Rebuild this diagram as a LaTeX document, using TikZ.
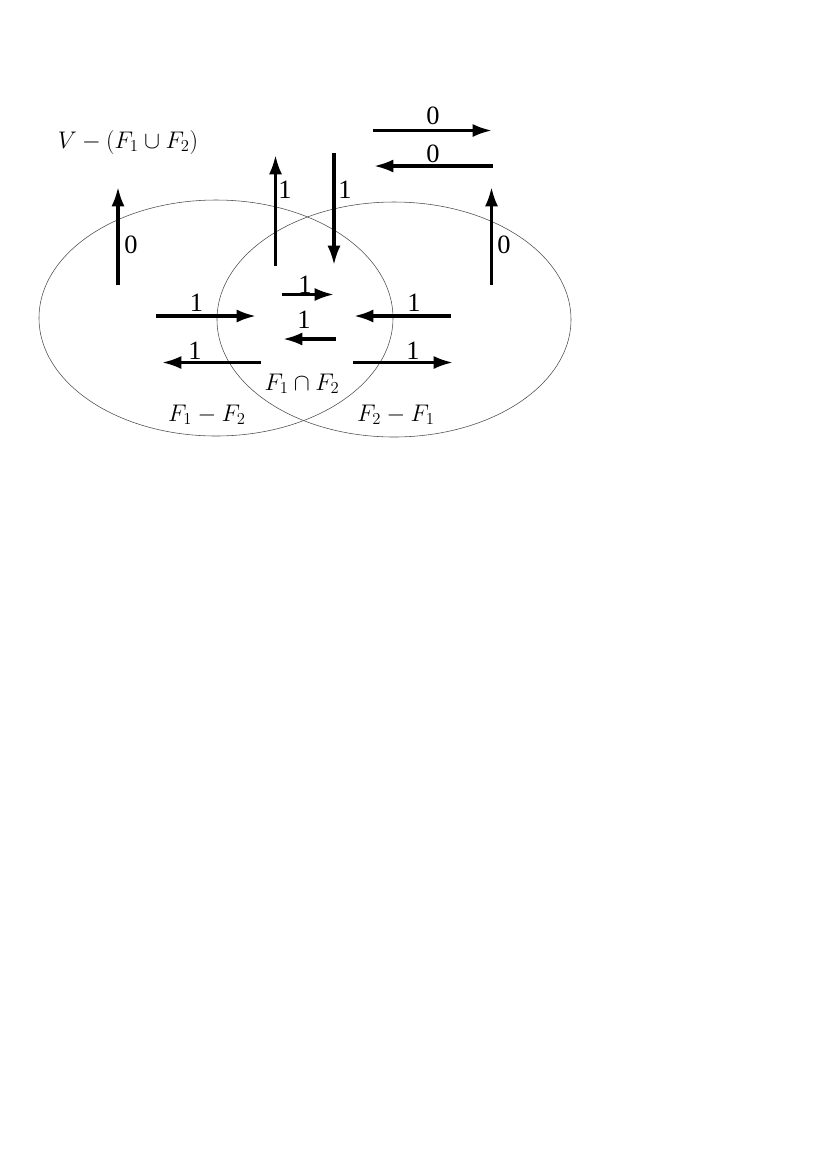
\documentclass[tikz,border=0pt]{standalone}
\usepackage{fontspec}
\newfontfamily\digitfont{Liberation Serif}
\usetikzlibrary{arrows.meta}
\tikzset{
  flow/.style={line width=2.3pt, -{Latex[length=14pt,width=9.5pt]}},
  region/.style={draw=black!70, line width=0.4pt},
  weight/.style={font=\digitfont\fontsize{19}{22}\selectfont, inner sep=0pt},
  setname/.style={font=\LARGE, inner sep=0pt, anchor=base}
}
\begin{document}
\begin{tikzpicture}[x=0.71894pt, y=-0.71894pt]
    \useasboundingbox (0,0) rectangle (828,1171);

    % The two sets
    \draw[region] (216,318) ellipse [x radius=177, y radius=118];
    \draw[region] (394,319.5) ellipse [x radius=177, y radius=117.5];

    % Define the arrow ends
    \coordinate (a0) at (118,285);   \coordinate (a1) at (118,187);
    \coordinate (b0) at (275.5,266); \coordinate (b1) at (275.5,155);
    \coordinate (c0) at (334,153);   \coordinate (c1) at (334,265);
    \coordinate (d0) at (491.5,285); \coordinate (d1) at (491.5,187);
    \coordinate (e0) at (373,130.5); \coordinate (e1) at (492,130.5);
    \coordinate (f0) at (493,166);   \coordinate (f1) at (374,166);
    \coordinate (g0) at (156,316);   \coordinate (g1) at (256,316);
    \coordinate (h0) at (261,362.5); \coordinate (h1) at (162,362.5);
    \coordinate (i0) at (282,294.5); \coordinate (i1) at (334,294.5);
    \coordinate (j0) at (336,339);   \coordinate (j1) at (283,339);
    \coordinate (k0) at (451,316);   \coordinate (k1) at (354,316);
    \coordinate (l0) at (353,362.5); \coordinate (l1) at (453,362.5);

    % Draw the arrows
    \draw[flow] (a0) -- (a1);
    \draw[flow] (b0) -- (b1);
    \draw[flow] (c0) -- (c1);
    \draw[flow] (d0) -- (d1);
    \draw[flow] (e0) -- (e1);
    \draw[flow] (f0) -- (f1);
    \draw[flow] (g0) -- (g1);
    \draw[flow] (h0) -- (h1);
    \draw[flow] (i0) -- (i1);
    \draw[flow] (j0) -- (j1);
    \draw[flow] (k0) -- (k1);
    \draw[flow] (l0) -- (l1);

    % Label the arrows
    \node[weight] (la) at (131,245) {0};
    \node[weight] (lb) at (285,190) {1};
    \node[weight] (lc) at (345,190) {1};
    \node[weight] (ld) at (504,245) {0};
    \node[weight] (le) at (433,116) {0};
    \node[weight] (lf) at (433,154) {0};
    \node[weight] (lg) at (196.5,303) {1};
    \node[weight] (lh) at (195,351) {1};
    \node[weight] (li) at (305,285) {1};
    \node[weight] (lj) at (304,320) {1};
    \node[weight] (lk) at (414,303) {1};
    \node[weight] (ll) at (413,351) {1};

    % Name the regions
    \node[setname] (outside) at (128,148) {$V-(F_1\cup F_2)$};
    \node[setname] (both) at (302,390) {$F_1\cap F_2$};
    \node[setname] (onlyone) at (207,421) {$F_1-F_2$};
    \node[setname] (onlytwo) at (396,421) {$F_2-F_1$};
\end{tikzpicture}
\end{document}
